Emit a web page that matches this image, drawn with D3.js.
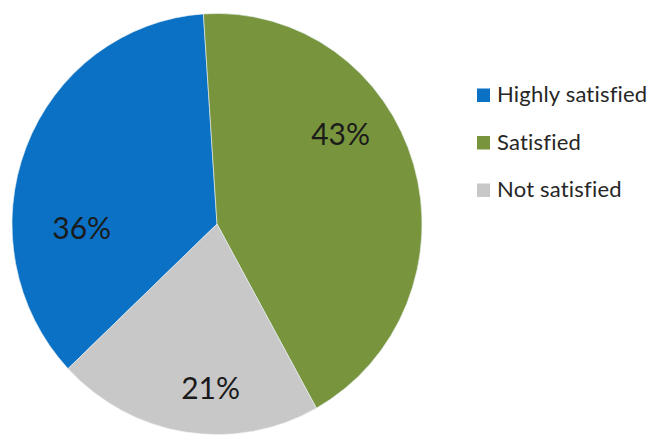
<!DOCTYPE html>
<html>
<head>
<meta charset="utf-8">
<script src="https://cdn.jsdelivr.net/npm/d3@7"></script>
<style>
  body { margin: 0; background: #fff; }
  svg { display: block; }
  text { font-variant-ligatures: none; }
</style>
</head>
<body>
<div id="chart"></div>
<script>
const categories = ["Highly satisfied", "Satisfied", "Not satisfied"]
const values = [36, 43, 21]
const labels = ["36%", "43%", "21%"]
const colors = ["#0a71c4", "#78953d", "#c8c8c8"]

// label placement tweaks (Excel best-fit look)
const labelAngleShift = [-23, -19, -6.5]
const labelRadius = [0.66, 0.74, 0.78]

const width = 652
const height = 440
const cx = 217
const cy = 224
const radius = 205
const yStretch = 1.027

const svg = d3.select("#chart").append("svg").attr("width", width).attr("height", height)

const toRad = (deg) => (deg * Math.PI) / 180
const total = d3.sum(values)
const offset = toRad(-3.8) - (values[0] / total) * 2 * Math.PI

const pie = d3
  .pie()
  .sort(null)
  .value((d) => d)
  .startAngle(offset)
  .endAngle(offset + 2 * Math.PI)

const arcs = pie(values)
const arc = d3.arc().innerRadius(0).outerRadius(radius)

const g = svg.append("g").attr("transform", `translate(${cx},${cy}) scale(1,${yStretch})`)

g.selectAll("path")
  .data(arcs)
  .enter()
  .append("path")
  .attr("d", arc)
  .attr("fill", (_, i) => colors[i])
  .attr("stroke", "#e8f0f4")
  .attr("stroke-width", 0.6)

// percentage labels
svg
  .selectAll("text.pct")
  .data(arcs)
  .enter()
  .append("text")
  .attr("class", "pct")
  .attr("x", (d, i) => {
    const a = (d.startAngle + d.endAngle) / 2 + toRad(labelAngleShift[i])
    return cx + Math.sin(a) * radius * labelRadius[i]
  })
  .attr("y", (d, i) => {
    const a = (d.startAngle + d.endAngle) / 2 + toRad(labelAngleShift[i])
    return cy - Math.cos(a) * radius * labelRadius[i] * yStretch
  })
  .attr("dy", "0.36em")
  .attr("text-anchor", "middle")
  .attr("font-family", "Lato, 'Open Sans', sans-serif")
  .attr("font-size", 30)
  .attr("fill", "#1b1b1b")
  .text((_, i) => labels[i])

// legend
const legendY = d3.scalePoint().domain(categories).range([102, 197])

const legend = svg
  .selectAll("g.legend")
  .data(categories)
  .enter()
  .append("g")
  .attr("class", "legend")
  .attr("transform", (d) => `translate(477,${legendY(d)})`)

legend
  .append("rect")
  .attr("x", 0)
  .attr("y", -13.5)
  .attr("width", 13)
  .attr("height", 13.5)
  .attr("fill", (_, i) => colors[i])

legend
  .append("text")
  .attr("x", 20)
  .attr("y", 0)
  .attr("font-family", "Lato, 'Open Sans', sans-serif")
  .attr("font-size", 22)
  .attr("letter-spacing", 0.2)
  .attr("fill", "#262626")
  .text((d) => d)
</script>
</body>
</html>
